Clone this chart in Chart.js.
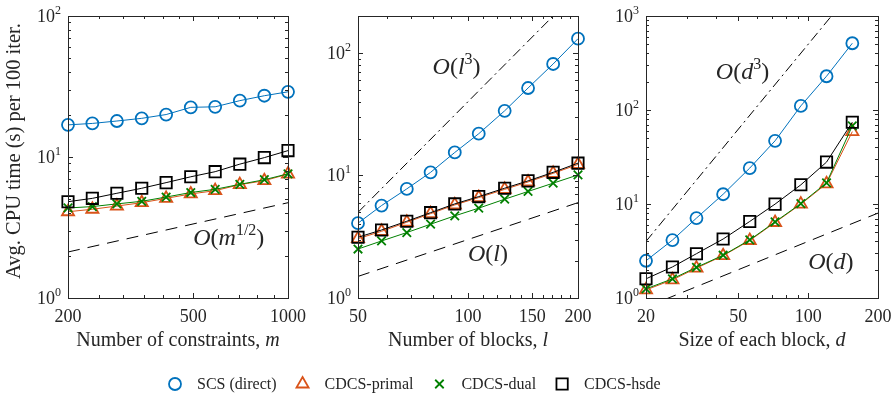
<!DOCTYPE html>
<html>
<head>
<meta charset="utf-8">
<script src="https://cdn.jsdelivr.net/npm/chart.js@4.4.1/dist/chart.umd.min.js"></script>
<style>
html, body { margin: 0; padding: 0; background: #fff; }
#wrap { position: relative; width: 896px; height: 397px; }
#wrap canvas { position: absolute; left: 0; top: 0; }
</style>
</head>
<body>
<div id="wrap">
  <canvas id="c1" width="896" height="397"></canvas>
  <canvas id="c2" width="896" height="397"></canvas>
  <canvas id="c3" width="896" height="397"></canvas>
</div>
<script>
// ---- data ----
const mVals = [200, 239, 286, 343, 410, 491, 587, 703, 841, 1000];
const scsM = [16.9, 17.3, 18.0, 18.8, 20.0, 22.5, 22.7, 25.1, 27.2, 29.0];
const primalM = [4.09, 4.26, 4.49, 4.74, 5.09, 5.47, 5.77, 6.37, 6.79, 7.57];
const dualM = [4.35, 4.45, 4.65, 4.85, 5.2, 5.6, 5.9, 6.4, 6.9, 7.6];
const hsdeM = [4.82, 5.09, 5.53, 6.0, 6.58, 7.24, 7.87, 8.9, 9.9, 11.1];
const refM = [[200, 1000], [2.12, 4.74]];          // O(m^1/2)

const lVals = [50, 58, 68, 79, 92, 107, 126, 146, 171, 200];
const scsL = [4.08, 5.68, 7.77, 10.6, 15.4, 21.9, 33.7, 51.7, 81.2, 130.6];
const primalL = [3.05, 3.5, 4.15, 4.88, 5.75, 6.6, 7.7, 8.85, 10.4, 12.3];
const dualL = [2.51, 2.92, 3.42, 4.0, 4.68, 5.41, 6.4, 7.4, 8.65, 10.1];
const hsdeL = [3.13, 3.59, 4.23, 4.97, 5.86, 6.72, 7.87, 9.03, 10.6, 12.6];
const refL3 = [[50, 200], [5, 320]];               // O(l^3)
const refL1 = [[50, 200], [1.5, 6]];               // O(l)

const dVals = [20, 26, 33, 43, 56, 72, 93, 120, 155];
const scsD = [2.49, 4.13, 7.08, 12.7, 24.1, 47, 110.6, 228.6, 513];
const primalD = [1.22, 1.56, 2.08, 2.82, 4.09, 6.36, 9.97, 16.4, 58.9];
const dualD = [1.25, 1.6, 2.12, 2.85, 4.15, 6.45, 10.1, 16.8, 67.7];
const hsdeD = [1.6, 2.14, 2.96, 4.24, 6.52, 9.97, 16.0, 27.9, 74.2];
const refD3 = [[20, 200], [4, 4000]];              // O(d^3)
const refD1 = [[20, 200], [0.8, 8]];               // O(d)

// tick positions
const xMajorM = [200, 500, 1000], xMinorM = [250, 300, 350, 400, 450, 600, 700, 800, 900];
const xMajorL = [50, 100, 150, 200], xMinorL = [60, 70, 80, 90, 110, 120, 130, 140, 160, 170, 180, 190];
const xMajorD = [20, 50, 100, 200], xMinorD = [30, 40, 60, 70, 80, 90];

const seriesNames = ['SCS (direct)', 'CDCS-primal', 'CDCS-dual', 'CDCS-hsde'];

// ---- styles ----
const SERIF = '"Liberation Serif", "DejaVu Serif", serif';
const F = s => s + 'px ' + SERIF;
const FI = s => 'italic ' + s + 'px ' + SERIF;
const TXT = '#262626';

const styles = [
  {color: '#0072BD', point: 'circle', r: 6, order: 3},
  {color: '#D95319', point: 'triangle', r: 7, order: 2},
  {color: '#008000', point: 'crossRot', r: 6, order: 1},
  {color: '#000000', point: 'rect', r: 8, order: 0},
];

const pts = (xs, ys) => xs.map((x, i) => ({x: x, y: ys[i]}));

function seriesSets(xs, ysList) {
  return ysList.map((ys, i) => ({
    label: seriesNames[i],
    data: pts(xs, ys),
    borderColor: styles[i].color,
    backgroundColor: 'rgba(0,0,0,0)',
    borderWidth: 1,
    pointStyle: styles[i].point,
    pointRadius: styles[i].r,
    pointBorderWidth: 1.8,
    pointBorderColor: styles[i].color,
    pointBackgroundColor: 'rgba(0,0,0,0)',
    order: styles[i].order,
    clip: 14,
  }));
}

function refSet(ref, dash) {
  return {
    data: pts(ref[0], ref[1]),
    borderColor: '#000',
    borderWidth: 1,
    borderDash: dash,
    pointRadius: 0,
    order: 5,
  };
}

// draw text made of pieces: [text, font, dy]
function rich(ctx, segs, x, y, align) {
  let w = 0;
  segs.forEach(s => { ctx.font = s[1]; w += ctx.measureText(s[0]).width; });
  let cx = align === 'right' ? x - w : (align === 'center' ? x - w / 2 : x);
  ctx.textAlign = 'left';
  segs.forEach(s => {
    ctx.font = s[1];
    ctx.fillText(s[0], cx, y + (s[2] || 0));
    cx += ctx.measureText(s[0]).width;
  });
  return w;
}

function marker(ctx, style, x, y) {
  const r = style.r;
  ctx.save();
  ctx.strokeStyle = style.color;
  ctx.lineWidth = 1.8;
  ctx.beginPath();
  if (style.point === 'circle') {
    ctx.arc(x, y, r, 0, Math.PI * 2);
  } else if (style.point === 'triangle') {
    for (let k = 0; k < 3; k++) {
      const ang = -Math.PI / 2 + k * 2 * Math.PI / 3;
      const px = x + r * Math.cos(ang), py = y + r * Math.sin(ang);
      k ? ctx.lineTo(px, py) : ctx.moveTo(px, py);
    }
    ctx.closePath();
  } else if (style.point === 'crossRot') {
    const o = r * Math.SQRT1_2;
    ctx.moveTo(x - o, y - o); ctx.lineTo(x + o, y + o);
    ctx.moveTo(x - o, y + o); ctx.lineTo(x + o, y - o);
  } else {
    const s = r * Math.SQRT1_2;
    ctx.rect(x - s, y - s, 2 * s, 2 * s);
  }
  ctx.stroke();
  ctx.restore();
}

// MATLAB-like box, inward ticks, labels, notes
const matlabAxes = {
  id: 'matlabAxes',
  afterDraw(chart, args, o) {
    const ctx = chart.ctx, a = chart.chartArea;
    const xs = chart.scales.x, ys = chart.scales.y;
    ctx.save();
    ctx.strokeStyle = TXT;
    ctx.lineWidth = 1;
    ctx.strokeRect(a.left + 0.5, a.top + 0.5, a.right - a.left, a.bottom - a.top);

    ctx.beginPath();
    const xt = (v, len) => {
      const p = Math.round(xs.getPixelForValue(v)) + 0.5;
      ctx.moveTo(p, a.bottom); ctx.lineTo(p, a.bottom - len);
      ctx.moveTo(p, a.top); ctx.lineTo(p, a.top + len);
    };
    const yt = (v, len) => {
      const p = Math.round(ys.getPixelForValue(v)) + 0.5;
      ctx.moveTo(a.left, p); ctx.lineTo(a.left + len, p);
      ctx.moveTo(a.right, p); ctx.lineTo(a.right - len, p);
    };
    o.xMajor.forEach(v => xt(v, 5));
    o.xMinor.forEach(v => xt(v, 3));
    const yMin = ys.min, yMax = ys.max;
    for (let e = Math.floor(Math.log10(yMin)); e <= Math.ceil(Math.log10(yMax)); e++) {
      for (let k = 1; k <= 9; k++) {
        const v = k * Math.pow(10, e);
        if (v <= yMin || v >= yMax) continue;
        yt(v, k === 1 ? 5 : 3);
      }
    }
    ctx.stroke();

    ctx.fillStyle = TXT;
    ctx.textBaseline = 'alphabetic';
    // y tick labels 10^k
    for (let e = Math.ceil(Math.log10(yMin) - 1e-9); e <= Math.floor(Math.log10(yMax) + 1e-9); e++) {
      const p = ys.getPixelForValue(Math.pow(10, e));
      rich(ctx, [['10', F(18)], [String(e), F(12), -8]], a.left - 7, p + 6, 'right');
    }
    // x tick labels
    o.xMajor.forEach(v => {
      rich(ctx, [[String(v), F(18)]], xs.getPixelForValue(v), a.bottom + 24, 'center');
    });
    // x title
    rich(ctx, o.xTitle, (a.left + a.right) / 2, a.bottom + 48, 'center');
    // slope notes
    (o.notes || []).forEach(n => {
      rich(ctx, n.segs, xs.getPixelForValue(n.x), ys.getPixelForValue(n.y) + 7, 'left');
    });

    if (o.yTitle) {
      ctx.save();
      ctx.translate(15, 151);
      ctx.rotate(-Math.PI / 2);
      ctx.textBaseline = 'middle';
      rich(ctx, [[o.yTitle, F(20.5)]], 0, 0, 'center');
      ctx.restore();
    }

    if (o.legend) {
      let x = 175;
      const y = 384;
      ctx.textBaseline = 'middle';
      seriesNames.forEach((name, i) => {
        marker(ctx, styles[i], x, y);
        const w = rich(ctx, [[name, F(16)]], x + 22, y + 1, 'left');
        x = x + 22 + w + 26;
      });
    }
    ctx.restore();
  }
};

const big = 24, sup = 16;
function note(x, y, v, ex) {
  const segs = [['O', FI(big)], ['(', F(big)], [v, FI(big)]];
  if (ex) segs.push([ex, F(sup), -10]);
  segs.push([')', F(big)]);
  return {x: x, y: y, segs: segs};
}

function makeChart(id, pad, xr, yr, datasets, axes) {
  return new Chart(document.getElementById(id), {
    type: 'line',
    data: {datasets: datasets},
    options: {
      responsive: false,
      animation: false,
      events: [],
      layout: {padding: pad},
      plugins: {legend: {display: false}, tooltip: {enabled: false}, matlabAxes: axes},
      scales: {
        x: {type: 'logarithmic', display: false, min: xr[0], max: xr[1]},
        y: {type: 'logarithmic', display: false, min: yr[0], max: yr[1]},
      }
    },
    plugins: [matlabAxes]
  });
}

makeChart('c1', {left: 68, right: 608, top: 16, bottom: 99}, [200, 1000], [1, 100],
  seriesSets(mVals, [scsM, primalM, dualM, hsdeM]).concat([refSet(refM, [12, 8])]),
  {
    xMajor: xMajorM, xMinor: xMinorM,
    xTitle: [['Number of constraints, ', F(20)], ['m', FI(20)]],
    yTitle: 'Avg. CPU time (s) per 100 iter.',
    notes: [note(500, 2.66, 'm', '1/2')]
  });

makeChart('c2', {left: 358, right: 318, top: 16, bottom: 99}, [50, 200], [1, 200],
  seriesSets(lVals, [scsL, primalL, dualL, hsdeL]).concat([refSet(refL3, [10, 4, 2, 4]), refSet(refL1, [12, 8])]),
  {
    xMajor: xMajorL, xMinor: xMinorL,
    xTitle: [['Number of blocks, ', F(20)], ['l', FI(20)]],
    notes: [note(80, 77, 'l', '3'), note(100, 2.3, 'l')]
  });

makeChart('c3', {left: 646, right: 18, top: 16, bottom: 99}, [20, 200], [1, 1000],
  seriesSets(dVals, [scsD, primalD, dualD, hsdeD]).concat([refSet(refD3, [10, 4, 2, 4]), refSet(refD1, [12, 8])]),
  {
    xMajor: xMajorD, xMinor: xMinorD,
    xTitle: [['Size of each block, ', F(20)], ['d', FI(20)]],
    notes: [note(40, 254, 'd', '3'), note(100, 2.43, 'd')],
    legend: true
  });
</script>
</body>
</html>
